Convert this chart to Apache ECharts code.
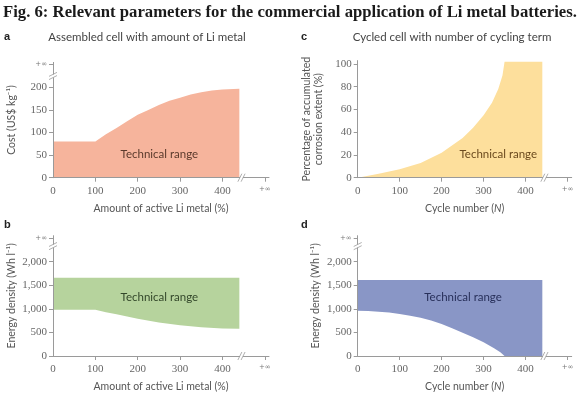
<!DOCTYPE html>
<html>
<head>
<meta charset="utf-8">
<script src="https://cdn.jsdelivr.net/npm/echarts@6/dist/echarts.min.js"></script>
<style>
  html, body { margin: 0; padding: 0; background: #fff; }
  #chart { width: 585px; height: 398px; }
</style>
</head>
<body>
<div id="chart"></div>
<script>
// tick values, the last one stands for +infinity
const xTicks = [0, 100, 200, 300, 400, 500]
const aYTicks = [0, 50, 100, 150, 200, 250]
const cYTicks = [0, 20, 40, 60, 80, 100]
const eYTicks = [0, 500, 1000, 1500, 2000, 2500]

// a: cost vs amount of active Li metal
const aX = [0, 100, 125, 150, 175, 200, 225, 250, 275, 300, 325, 350, 375, 400, 440]
const aCost = [80, 80, 96, 110, 125, 139, 150, 161, 170, 177, 184, 189, 193, 195, 197]

// b: energy density band vs amount of active Li metal
const bX = [0, 100, 125, 150, 175, 200, 250, 300, 350, 400, 440]
const bLow = [980, 980, 930, 885, 835, 790, 710, 650, 610, 585, 575]
const bHigh = [1660, 1660, 1660, 1660, 1660, 1660, 1660, 1660, 1660, 1660, 1660]

// c: accumulated corrosion vs cycle number
const cX = [0, 50, 100, 150, 200, 250, 275, 300, 320, 335, 345, 350, 440]
const cCorr = [0, 3.5, 7.5, 13, 22, 35, 44, 55, 66, 78, 90, 102, 102]

// d: energy density band vs cycle number
const dX = [0, 25, 50, 75, 100, 125, 150, 175, 200, 225, 250, 275, 300, 325, 340, 350, 440]
const dLow = [960, 955, 940, 920, 890, 855, 810, 750, 680, 590, 495, 395, 290, 165, 80, 0, 0]
const dHigh = [1610, 1610, 1610, 1610, 1610, 1610, 1610, 1610, 1610, 1610, 1610, 1610, 1610, 1610, 1610, 1610, 1610]

// where the "Technical range" text sits, in data units
const labelPos = [[251, 52], [251, 1236], [335, 20.6], [251, 1236]]
// axis breaks: [x, y, 0 = on x axis / 1 = on y axis]
const breaksA = [[445, 0, 0], [0, 225, 1]]
const breaksB = [[445, 0, 0], [0, 2330, 1]]
const breaksC = [[445, 0, 0]]
const breaksD = [[445, 0, 0], [0, 2330, 1]]

const colors = {
  a: '#f6b49c',
  b: '#b6d39d',
  c: '#fddf9c',
  d: '#8996c6',
}
const axisColor = '#9a9a9a'
const tickFont = 'Liberation Serif'
const nameFont = 'Lato'

const chart = echarts.init(document.getElementById('chart'), null, { renderer: 'canvas' })

const grids = [
  { left: 53, top: 62.4, width: 216, height: 115.3 },
  { left: 53, top: 235.7, width: 216, height: 120.3 },
  { left: 357.7, top: 60.6, width: 214, height: 117.1 },
  { left: 357.7, top: 235.7, width: 214, height: 120.3 },
].map(g => Object.assign({ outerBoundsMode: 'none', containLabel: false }, g))

function infLabel(v, inf) {
  if (v === inf) return '{s|+∞}'
  return v >= 1000 ? v.toLocaleString('en-US') : String(v)
}

function xAxisOf(gridIndex, name) {
  return {
    type: 'value', gridIndex, min: 0, max: 510, z: 3,
    name, nameLocation: 'middle', nameGap: 25,
    nameTextStyle: {
      fontFamily: nameFont, fontSize: 10.5, color: '#555',
      rich: {
        n: { fontFamily: nameFont, fontSize: 10.5, color: '#555' },
        i: { fontFamily: nameFont, fontSize: 10.5, color: '#555', fontStyle: 'italic' },
      },
    },
    axisLine: { show: true, lineStyle: { color: axisColor, width: 1 } },
    axisTick: { show: true, length: 4, customValues: xTicks.slice(1), lineStyle: { color: axisColor } },
    axisLabel: {
      customValues: xTicks, margin: 8,
      fontFamily: tickFont, fontSize: 11, color: '#666',
      formatter: v => infLabel(v, 500),
      rich: { s: { fontSize: 7, color: '#777', fontFamily: 'DejaVu Sans' } },
    },
    splitLine: { show: false },
  }
}

function yAxisOf(gridIndex, name, max, ticks, inf, gap) {
  return {
    type: 'value', gridIndex, min: 0, max, z: 3,
    name, nameLocation: 'middle', nameGap: gap,
    nameTextStyle: { fontFamily: nameFont, fontSize: 10.5, color: '#555', lineHeight: 12 },
    axisLine: { show: true, lineStyle: { color: axisColor, width: 1 } },
    axisTick: { show: true, length: 4, customValues: ticks, lineStyle: { color: axisColor } },
    axisLabel: {
      customValues: ticks, margin: 6,
      fontFamily: tickFont, fontSize: 11, color: '#666',
      formatter: v => infLabel(v, inf),
      rich: { s: { fontSize: 7, color: '#777', fontFamily: 'DejaVu Sans' } },
    },
    splitLine: { show: false },
  }
}

function pairs(xs, ys) {
  return xs.map((x, i) => [x, ys[i]])
}

function areaSeries(idx, xs, ys, color) {
  return {
    type: 'line', xAxisIndex: idx, yAxisIndex: idx,
    data: pairs(xs, ys), symbol: 'none', silent: true,
    lineStyle: { width: 0 }, areaStyle: { color, opacity: 1 },
  }
}

// band between a lower and an upper edge, drawn as one polygon
function bandSeries(idx, xs, low, high, color) {
  return {
    type: 'custom', xAxisIndex: idx, yAxisIndex: idx, silent: true,
    data: xs.map((x, i) => [x, low[i], high[i]]),
    renderItem(params, api) {
      if (params.dataIndex !== 0) return null
      const top = xs.map((x, i) => api.coord([x, high[i]]))
      const bottom = xs.map((x, i) => api.coord([x, low[i]])).reverse()
      return {
        type: 'polygon',
        shape: { points: top.concat(bottom) },
        style: { fill: color },
      }
    },
  }
}

function breakSeries(idx, data) {
  return {
    type: 'custom', xAxisIndex: idx, yAxisIndex: idx, z: 10, clip: false, silent: true,
    data,
    renderItem(params, api) {
      const p = api.coord([api.value(0), api.value(1)])
      const onY = api.value(2) === 1
      // d = along the axis, n = across it
      const d = onY ? [0, -1] : [1, 0]
      const n = onY ? [1, 0] : [0, -1]
      const line = off => {
        const cx = p[0] + d[0] * off, cy = p[1] + d[1] * off
        return {
          type: 'line',
          shape: {
            x1: cx - n[0] * 4 - d[0] * 2, y1: cy - n[1] * 4 - d[1] * 2,
            x2: cx + n[0] * 4 + d[0] * 2, y2: cy + n[1] * 4 + d[1] * 2,
          },
          style: { stroke: axisColor, lineWidth: 0.8 },
        }
      }
      return {
        type: 'group',
        children: [
          { type: 'rect', shape: { x: p[0] - 1.5, y: p[1] - 1.5, width: 3, height: 3 }, style: { fill: '#fff' } },
          line(-1.6),
          line(1.6),
        ],
      }
    },
  }
}

function labelSeries(idx, pos, color) {
  return {
    type: 'custom', xAxisIndex: idx, yAxisIndex: idx, z: 11, silent: true,
    data: [pos],
    renderItem(params, api) {
      const p = api.coord([api.value(0), api.value(1)])
      return {
        type: 'text', x: p[0], y: p[1],
        style: {
          text: 'Technical range', fill: color, fontFamily: nameFont, fontSize: 11.5,
          align: 'center', verticalAlign: 'middle',
        },
      }
    },
  }
}

function text(x, y, str, style) {
  return {
    type: 'text', x, y,
    style: Object.assign({ text: str, verticalAlign: 'middle' }, style),
  }
}

const panelTitle = { fontFamily: nameFont, fontSize: 11.5, fill: '#444', align: 'center' }
const letter = { fontFamily: 'Liberation Sans', fontSize: 11, fontWeight: 'bold', fill: '#222' }

const option = {
  backgroundColor: '#fff',
  animation: false,
  grid: grids,
  xAxis: [
    xAxisOf(0, 'Amount of active Li metal (%)'),
    xAxisOf(1, 'Amount of active Li metal (%)'),
    xAxisOf(2, '{n|Cycle number (}{i|N}{n|)}'),
    xAxisOf(3, '{n|Cycle number (}{i|N}{n|)}'),
  ],
  yAxis: [
    yAxisOf(0, 'Cost (US$ kg⁻¹)', 255, aYTicks, 250, 35),
    yAxisOf(1, 'Energy density (Wh l⁻¹)', 2550, eYTicks, 2500, 35),
    yAxisOf(2, 'Percentage of accumulated\ncorrosion extent (%)', 103, cYTicks, null, 33),
    yAxisOf(3, 'Energy density (Wh l⁻¹)', 2550, eYTicks, 2500, 36),
  ],
  series: [
    areaSeries(0, aX, aCost, colors.a),
    bandSeries(1, bX, bLow, bHigh, colors.b),
    areaSeries(2, cX, cCorr, colors.c),
    bandSeries(3, dX, dLow, dHigh, colors.d),
    breakSeries(0, breaksA),
    breakSeries(1, breaksB),
    breakSeries(2, breaksC),
    breakSeries(3, breaksD),
    labelSeries(0, labelPos[0], '#5b3a2c'),
    labelSeries(1, labelPos[1], '#33472a'),
    labelSeries(2, labelPos[2], '#6b4a1e'),
    labelSeries(3, labelPos[3], '#28305a'),
  ],
  graphic: [
    text(3, 12.5, 'Fig. 6: Relevant parameters for the commercial application of Li metal batteries.', {
      fontFamily: 'Liberation Serif', fontWeight: 'bold', fontSize: 16.7, fill: '#1a1a1a',
    }),
    text(4, 37, 'a', letter),
    text(301, 37, 'c', letter),
    text(4, 225, 'b', letter),
    text(301, 225, 'd', letter),
    text(147, 37.7, 'Assembled cell with amount of Li metal', panelTitle),
    text(452, 37.7, 'Cycled cell with number of cycling term', panelTitle),
  ],
}

chart.setOption(option)
</script>
</body>
</html>
